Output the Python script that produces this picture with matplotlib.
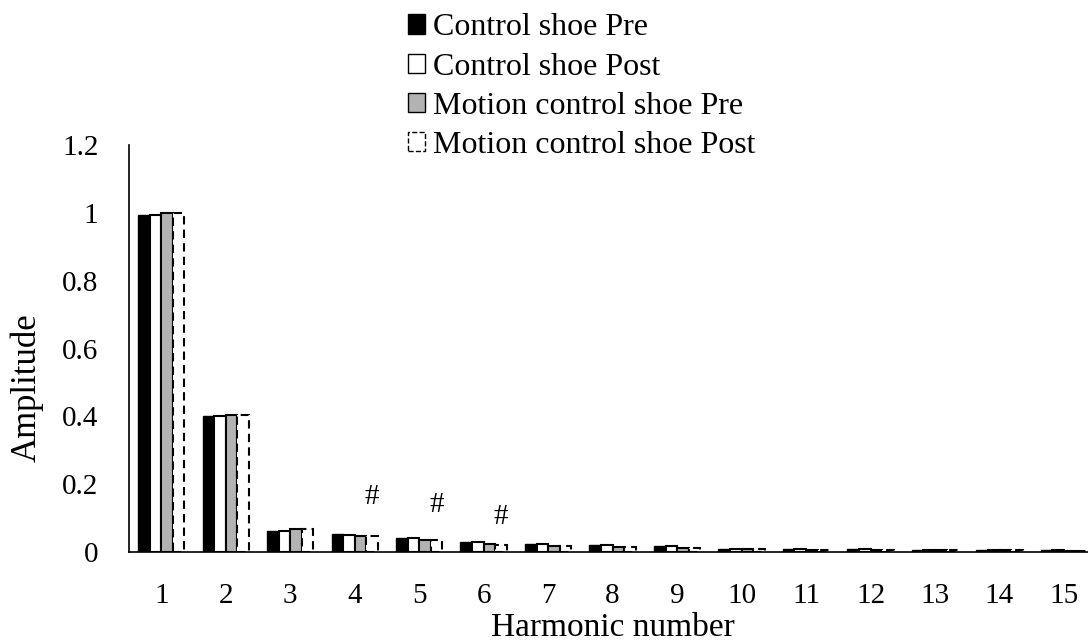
import numpy as np
import matplotlib.pyplot as plt
from matplotlib.patches import Patch

plt.rcParams['font.family'] = ['Liberation Serif', 'DejaVu Serif']

harmonics = list(range(1, 16))
control_pre = [0.995, 0.40, 0.062, 0.052, 0.040, 0.030, 0.025, 0.020, 0.018, 0.010, 0.010, 0.009, 0.005, 0.005, 0.005]
control_post = [0.995, 0.40, 0.062, 0.051, 0.040, 0.030, 0.025, 0.020, 0.017, 0.009, 0.010, 0.009, 0.005, 0.005, 0.005]
motion_pre = [1.0, 0.405, 0.068, 0.047, 0.035, 0.023, 0.019, 0.015, 0.012, 0.009, 0.006, 0.005, 0.005, 0.005, 0.004]
motion_post = [1.0, 0.405, 0.068, 0.046, 0.034, 0.022, 0.019, 0.015, 0.012, 0.009, 0.006, 0.005, 0.005, 0.005, 0.004]
labels = ['Control shoe Pre', 'Control shoe Post', 'Motion control shoe Pre', 'Motion control shoe Post']

# significance marks (#) : harmonic, height
hash_x = [4, 5, 6]
hash_y = [0.162, 0.139, 0.103]

fig = plt.figure(figsize=(10.88, 6.43), dpi=100)
ax = fig.add_axes([0.1186, 0.1415, 0.889, 0.633])

x = np.array(harmonics)
w = 0.18
ax.bar(x - 1.5 * w, control_pre, w, color='black', edgecolor='black', linewidth=1)
ax.bar(x - 0.5 * w, control_post, w, color='white', edgecolor='black', linewidth=1.5)
ax.bar(x + 0.5 * w, motion_pre, w, color='#b3b3b3', edgecolor='black', linewidth=1.5)
ax.bar(x + 1.5 * w, motion_post, w, color='white', edgecolor='black', linewidth=1.5, linestyle=(0, (4, 2.5)))

for hx, hy in zip(hash_x, hash_y):
    ax.text(hx + 1.5 * w, hy, '#', ha='center', va='center', fontsize=21)

ax.set_xlim(0.5, 15.5)
ax.set_ylim(0, 1.2)
ax.set_xticks(harmonics)
ax.set_yticks([0, 0.2, 0.4, 0.6, 0.8, 1.0, 1.2])
ax.set_yticklabels(['0', '0.2', '0.4', '0.6', '0.8', '1', '1.2'])
ax.tick_params(axis='x', length=0, labelsize=21, pad=22)
ax.tick_params(axis='y', length=0, labelsize=21, pad=22)
ax.spines['top'].set_visible(False)
ax.spines['right'].set_visible(False)
ax.spines['left'].set_linewidth(1.2)
ax.spines['bottom'].set_linewidth(1.2)
ax.set_xlabel('Harmonic number', fontsize=24, labelpad=3)
ax.set_ylabel('Amplitude', fontsize=25)
ax.yaxis.set_label_coords(-0.088, 0.405)

handles = [
    Patch(facecolor='black', edgecolor='black'),
    Patch(facecolor='white', edgecolor='black'),
    Patch(facecolor='#b3b3b3', edgecolor='black'),
    Patch(facecolor='white', edgecolor='black', linestyle='--'),
]
fig.legend(handles, labels, loc='upper left', bbox_to_anchor=(0.363, 0.999), frameon=False,
           fontsize=23, handlelength=0.55, handleheight=0.55, handletextpad=0.25, labelspacing=0.32,
           borderaxespad=0)

fig.savefig('out.png', dpi=100)
